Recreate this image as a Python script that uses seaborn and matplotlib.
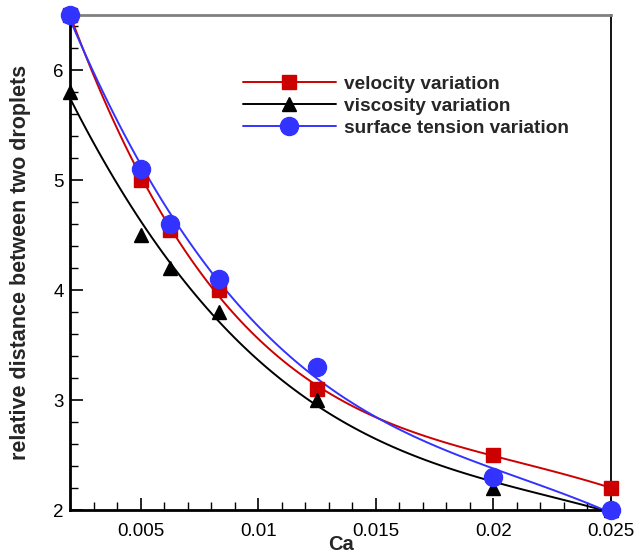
import numpy as np
import pandas as pd
import seaborn as sns
import matplotlib.pyplot as plt
from matplotlib.lines import Line2D
from matplotlib.ticker import MultipleLocator

# valores
ca = [0.002, 0.005, 0.00625, 0.00833, 0.0125, 0.02, 0.025]
dist_velocidad = [6.5, 5.0, 4.55, 4.0, 3.1, 2.5, 2.2]
dist_viscosidad = [5.8, 4.5, 4.2, 3.8, 3.0, 2.2, 2.0]
dist_tension = [6.5, 5.1, 4.6, 4.1, 3.3, 2.3, 2.0]

series = [
    ('velocity variation', dist_velocidad, '#cc0000', 's', 9.5, 4),
    ('viscosity variation', dist_viscosidad, 'black', '^', 10.5, 3),
    ('surface tension variation', dist_tension, '#3333ff', 'o', 13, 3),
]

sns.set_style('ticks')
plt.rcParams['font.family'] = ['Liberation Sans', 'DejaVu Sans']

fig, ax = plt.subplots(figsize=(6.35, 5.58), dpi=100)
fig.subplots_adjust(left=0.111, right=0.962, bottom=0.086, top=0.973)

handles = []
for nombre, valores, color, marca, tam, orden in series:
    df = pd.DataFrame({'Ca': ca, 'dist': valores})
    sns.regplot(data=df, x='Ca', y='dist', order=orden, ci=None, scatter=False,
                truncate=True, color=color, line_kws={'lw': 1.4, 'zorder': 2}, ax=ax)
    handles.append(Line2D([], [], color=color, lw=1.4, marker=marca, markersize=tam))

zorders = [4, 5, 6]
for (nombre, valores, color, marca, tam, orden), z in zip(series, zorders):
    ax.plot(ca, valores, linestyle='none', marker=marca, markersize=tam, color=color, zorder=z,
            clip_on=False)

ax.set_xlim(0.002, 0.025)
ax.set_ylim(2, 6.5)
ax.xaxis.set_minor_locator(MultipleLocator(0.001))
ax.yaxis.set_major_locator(MultipleLocator(1))
ax.yaxis.set_minor_locator(MultipleLocator(0.2))
ax.set_xticks([0.005, 0.01, 0.015, 0.02, 0.025])
ax.set_xticklabels(['0.005', '0.01', '0.015', '0.02', '0.025'])
ax.tick_params(which='both', direction='in', labelsize=13.5, colors='black', pad=5)
ax.tick_params(which='major', length=9, width=1.2)
ax.tick_params(which='minor', length=5.5, width=1.0)
ax.tick_params(axis='x', pad=9)

ax.set_xlabel('Ca', fontsize=14.5, fontweight='bold', labelpad=-3)
ax.set_ylabel('relative distance between two droplets', fontsize=15.5, fontweight='bold', labelpad=16)

for lado in ['left', 'bottom']:
    ax.spines[lado].set_linewidth(2)
    ax.spines[lado].set_color('black')
ax.spines['right'].set_linewidth(1.3)
ax.spines['right'].set_color('black')
ax.spines['top'].set_linewidth(2)
ax.spines['top'].set_color('#808080')

leg = ax.legend(handles, [s[0] for s in series], loc='upper left', bbox_to_anchor=(0.287, 0.913),
                frameon=False, handlelength=4.9, handletextpad=0.45, labelspacing=0.25,
                prop={'size': 13.7, 'weight': 'bold'})

fig.savefig('out.png', dpi=100)
